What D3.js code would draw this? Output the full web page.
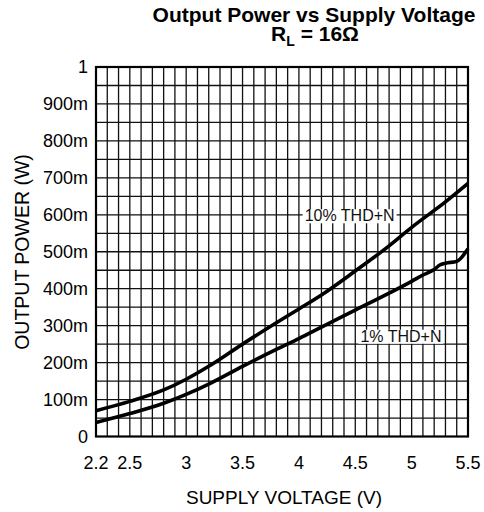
<!DOCTYPE html>
<html>
<head>
<meta charset="utf-8">
<script src="https://cdnjs.cloudflare.com/ajax/libs/d3/7.8.5/d3.min.js"></script>
<style>
  body { margin: 0; background: #fff; }
  text { font-family: "Liberation Sans", Arial, sans-serif; }
</style>
</head>
<body>
<div id="graph"></div>
<script>
// chart data
let xTicks = [2.2, 2.5, 3, 3.5, 4, 4.5, 5, 5.5];
let yTicks = [0, 0.1, 0.2, 0.3, 0.4, 0.5, 0.6, 0.7, 0.8, 0.9, 1];
let yTickLabels = ["0", "100m", "200m", "300m", "400m", "500m", "600m", "700m", "800m", "900m", "1"];

let seriesNames = ["10% THD+N", "1% THD+N"];
let voltage10 = [2.2, 2.5, 2.8, 3.0, 3.2, 3.5, 3.8, 4.0, 4.2, 4.5, 4.8, 5.0, 5.3, 5.5];
let power10 = [0.070, 0.095, 0.126, 0.155, 0.190, 0.250, 0.308, 0.345, 0.383, 0.448, 0.516, 0.566, 0.635, 0.685];
let voltage1 = [2.2, 2.5, 2.8, 3.0, 3.2, 3.5, 3.8, 4.0, 4.2, 4.5, 4.8, 5.0, 5.1, 5.2, 5.25, 5.3, 5.4, 5.5];
let power1 = [0.038, 0.062, 0.090, 0.114, 0.142, 0.190, 0.236, 0.265, 0.296, 0.342, 0.388, 0.420, 0.437, 0.452, 0.464, 0.469, 0.474, 0.508];

// where the series labels sit (data coords)
let labelV = [4.45, 4.905];
let labelP = [0.598, 0.272];

let w = 484;
let h = 512;
let padLeft = 96, padRight = 468, padTop = 67, padBottom = 436.5;

let svg = d3.select("#graph").append("svg")
              .attr("width", w)
              .attr("height", h);

let x = d3.scaleLinear().domain([2.2, 5.5]).range([padLeft, padRight]);
let y = d3.scaleLinear().domain([0, 1]).range([padBottom, padTop]);

// grid: every 0.1 V and every 50 mW
let vGrid = d3.range(23, 55).map(d => d / 10);
let hGrid = d3.range(1, 20).map(d => d * 0.05);

let grid = svg.append("g");
grid.selectAll("line.v").data(vGrid).enter()
      .append("line")
        .attr("x1", d => x(d)).attr("x2", d => x(d))
        .attr("y1", padTop).attr("y2", padBottom)
        .attr("stroke", "#111").attr("stroke-width", 1.3);
grid.selectAll("line.h").data(hGrid).enter()
      .append("line")
        .attr("x1", padLeft).attr("x2", padRight)
        .attr("y1", d => y(d)).attr("y2", d => y(d))
        .attr("stroke", "#111").attr("stroke-width", 1.3);

// series labels with white boxes
let labelG = svg.append("g");
seriesNames.forEach(function(name, i){
  let t = labelG.append("text")
                  .attr("x", x(labelV[i]))
                  .attr("y", y(labelP[i]))
                  .attr("dy", "0.36em")
                  .attr("text-anchor", "middle")
                  .attr("font-family", "'Open Sans', sans-serif")
                  .attr("font-size", 16)
                  .attr("fill", "#111")
                  .text(name);
  let bb = t.node().getBBox();
  labelG.insert("rect", "text")
          .attr("x", bb.x - 2).attr("y", bb.y + 2)
          .attr("width", bb.width + 4).attr("height", bb.height - 3)
          .attr("fill", "white");
});

// curves
let line = d3.line()
               .x(d => x(d[0]))
               .y(d => y(d[1]))
               .curve(d3.curveMonotoneX);

svg.append("path")
     .attr("d", line(d3.zip(voltage10, power10)))
     .attr("fill", "none").attr("stroke", "#000").attr("stroke-width", 3.6);
svg.append("path")
     .attr("d", line(d3.zip(voltage1, power1)))
     .attr("fill", "none").attr("stroke", "#000").attr("stroke-width", 3.6);

// frame
svg.append("rect")
     .attr("x", padLeft).attr("y", padTop)
     .attr("width", padRight - padLeft).attr("height", padBottom - padTop)
     .attr("fill", "none").attr("stroke", "#000").attr("stroke-width", 2.2);

// tick labels
svg.selectAll("text.ytick").data(yTicks).enter()
     .append("text")
       .attr("x", 88)
       .attr("y", d => y(d))
       .attr("dy", "0.36em")
       .attr("text-anchor", "end")
       .attr("font-size", 18)
       .text((d, i) => yTickLabels[i]);

svg.selectAll("text.xtick").data(xTicks).enter()
     .append("text")
       .attr("x", d => x(d))
       .attr("y", 469)
       .attr("text-anchor", "middle")
       .attr("font-size", 18)
       .text(d => d);

// axis titles
svg.append("text")
     .attr("x", 284).attr("y", 504)
     .attr("text-anchor", "middle")
     .attr("font-size", 19)
     .text("SUPPLY VOLTAGE (V)");

svg.append("text")
     .attr("transform", "translate(28.5," + 252 + ") rotate(-90)")
     .attr("text-anchor", "middle")
     .attr("font-size", 19.5)
     .text("OUTPUT POWER (W)");

// chart title
svg.append("text")
     .attr("x", 314).attr("y", 21.5)
     .attr("text-anchor", "middle")
     .attr("font-size", 21)
     .attr("font-weight", "bold")
     .text("Output Power vs Supply Voltage");

let sub = svg.append("text")
               .attr("x", 315).attr("y", 41)
               .attr("text-anchor", "middle")
               .attr("font-size", 21)
               .attr("font-weight", "bold");
sub.append("tspan").text("R");
sub.append("tspan").attr("font-size", 14).attr("dy", 5).text("L");
sub.append("tspan").attr("dy", -5).text(" = 16Ω");
</script>
</body>
</html>
